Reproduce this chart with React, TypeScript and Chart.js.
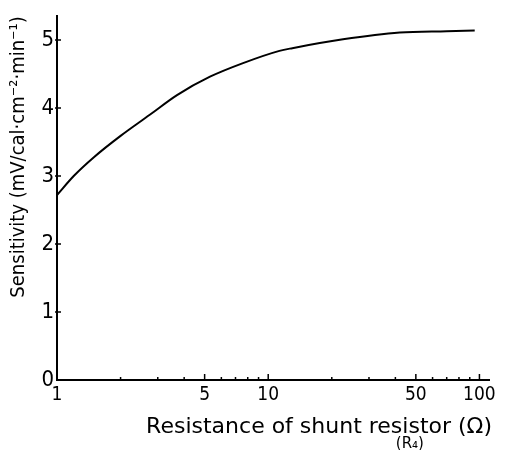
import React, { useEffect, useRef } from "react";
import { Chart, registerables } from "chart.js";

Chart.register(...registerables);

// ---- data ----
const resistance = [1, 1.2, 1.5, 2, 2.75, 3.7, 5.3, 7.6, 11.3, 13, 22.6, 42, 70, 95];
const sensitivity = [2.72, 3.0, 3.28, 3.59, 3.9, 4.19, 4.46, 4.66, 4.84, 4.88, 5.01, 5.11, 5.13, 5.14];

const xLabelValues = [1, 5, 10, 50, 100];
const xMajorTicks = [5, 10, 50, 100];
const xMinorTicks = [2, 3, 4, 6, 7, 8, 9, 20, 30, 40, 60, 70, 80, 90];
const yTickValues = [1, 2, 3, 4, 5];

const xTitle = "Resistance of shunt resistor (Ω)";
const xTitlePrefix = "Resistance of shunt ";
const xTitleWord = "resistor";
const xSubTitle = "(R₄)";
const yTitle = "Sensitivity (mV/cal·cm⁻²·min⁻¹)";

const FONT = '"DejaVu Sans", sans-serif';
const FONT_NARROW = '"DejaVu Sans Condensed", "DejaVu Sans", sans-serif';

const inwardTicks = {
  id: "inwardTicks",
  afterDraw(chart: any) {
    const { ctx, chartArea, scales } = chart;
    const x = scales.x;
    const y = scales.y;
    ctx.save();
    ctx.strokeStyle = "#000";
    ctx.lineWidth = 1.5;
    ctx.beginPath();
    for (const v of xMinorTicks) {
      const px = x.getPixelForValue(v);
      ctx.moveTo(px, chartArea.bottom);
      ctx.lineTo(px, chartArea.bottom - 3);
    }
    for (const v of xMajorTicks) {
      const px = x.getPixelForValue(v);
      ctx.moveTo(px, chartArea.bottom);
      ctx.lineTo(px, chartArea.bottom - 6);
    }
    for (const v of yTickValues) {
      const py = y.getPixelForValue(v);
      ctx.moveTo(chartArea.left - 2, py);
      ctx.lineTo(chartArea.left + 4, py);
    }
    ctx.stroke();

    // x-axis title, right-aligned to the axis end
    ctx.fillStyle = "#000";
    ctx.font = `22px ${FONT}`;
    const full = ctx.measureText(xTitle).width;
    const pre = ctx.measureText(xTitlePrefix).width;
    const word = ctx.measureText(xTitleWord).width;
    const start = chartArea.right + 3 - full;
    ctx.textAlign = "left";
    ctx.textBaseline = "alphabetic";
    ctx.fillText(xTitle, start, chartArea.bottom + 53);

    // "(R4)" under the word "resistor"
    ctx.font = `15px ${FONT}`;
    ctx.textAlign = "center";
    ctx.fillText(xSubTitle, start + pre + word / 2, chart.height - 2);
    ctx.restore();
  },
};

export default function App() {
  const canvasRef = useRef<HTMLCanvasElement | null>(null);

  useEffect(() => {
    document.body.style.margin = "0";
    const canvas = canvasRef.current;
    if (!canvas) return;
    const chart = new Chart(canvas, {
      type: "line",
      data: {
        datasets: [
          {
            data: resistance.map((r, i) => ({ x: r, y: sensitivity[i] })),
            borderColor: "#000",
            borderWidth: 2,
            pointRadius: 0,
            fill: false,
            cubicInterpolationMode: "monotone",
          },
        ],
      },
      options: {
        responsive: false,
        animation: false,
        devicePixelRatio: 1,
        layout: { padding: { top: 10, right: 22, left: 0, bottom: 0 } },
        plugins: {
          legend: { display: false },
          tooltip: { enabled: false },
        },
        scales: {
          x: {
            type: "logarithmic",
            min: 1,
            max: 111,
            grid: { display: false, drawTicks: false },
            border: { display: true, color: "#000", width: 2 },
            ticks: {
              autoSkip: false,
              maxRotation: 0,
              padding: 4,
              color: "#000",
              font: { family: FONT_NARROW, size: 19 },
              callback: (v: any) => (xLabelValues.includes(Number(v)) ? String(v) : ""),
            },
            title: { display: false },
            afterFit: (scale: any) => {
              scale.height = 70;
            },
          },
          y: {
            type: "linear",
            min: 0,
            max: 5.35,
            grid: { display: false, drawTicks: false },
            border: { display: true, color: "#000", width: 2 },
            ticks: {
              stepSize: 1,
              includeBounds: false,
              padding: 3,
              color: "#000",
              font: { family: FONT_NARROW, size: 22 },
            },
            title: {
              display: true,
              text: yTitle,
              align: "end",
              color: "#000",
              font: { family: FONT_NARROW, size: 20 },
              padding: { top: 7, bottom: 0 },
            },
            afterFit: (scale: any) => {
              scale.width = 57;
            },
          },
        },
      },
      plugins: [inwardTicks],
    } as any);
    return () => chart.destroy();
  }, []);

  return (
    <div style={{ width: 511, height: 450 }}>
      <canvas ref={canvasRef} width={511} height={450} />
    </div>
  );
}
